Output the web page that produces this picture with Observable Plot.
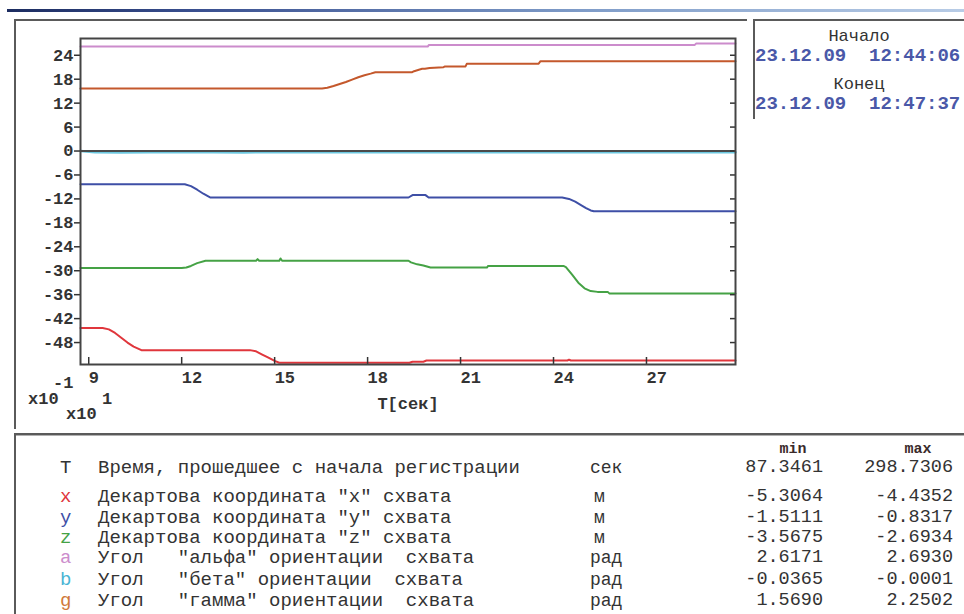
<!DOCTYPE html>
<html>
<head>
<meta charset="utf-8">
<script src="https://cdn.jsdelivr.net/npm/d3@7"></script>
<script src="https://cdn.jsdelivr.net/npm/@observablehq/plot@0.6"></script>
<style>
  html, body { margin: 0; padding: 0; background: #fff; }
  #wrap { position: relative; width: 964px; height: 614px; overflow: hidden; background: #fff;
          font-family: "Liberation Mono", "Courier New", monospace; }
  .abs { position: absolute; white-space: pre; line-height: 1; }
  .line { position: absolute; }
</style>
</head>
<body>
<div id="wrap"></div>
<script>
// ---------- data ----------
const seriesKeys   = ["b", "x", "y", "z", "a", "g"];
const seriesColors = ["#6cc8e0", "#e0363c", "#3e4fa6", "#45a245", "#cc8ccc", "#c4582c"];

// T in seconds, values in physical units (axis labels are x10)
const xT = [87.35, 94.5, 96.5, 98.5, 100.5, 102.5, 104.5, 107, 142, 144, 146, 148, 150, 151.5, 193.5, 194.5, 198, 199, 244.5, 245, 245.6, 298.73];
const xV = [-4.4352, -4.4352, -4.47, -4.56, -4.68, -4.80, -4.90, -4.99, -4.99, -5.02, -5.10, -5.18, -5.26, -5.3064, -5.3064, -5.28, -5.28, -5.25, -5.25, -5.23, -5.25, -5.25];

const yT = [87.35, 121, 123, 125, 127, 129.3, 193.2, 194.5, 198.7, 199.7, 242.8, 245, 247, 249, 250.5, 252, 253, 298.73];
const yV = [-0.8317, -0.8317, -0.88, -0.97, -1.07, -1.165, -1.165, -1.105, -1.105, -1.165, -1.165, -1.20, -1.27, -1.36, -1.43, -1.49, -1.5111, -1.5111];

const zT = [87.35, 120, 121.5, 123, 125, 127.7, 144, 144.5, 145, 151.5, 151.9, 152.4, 193.2, 194, 196, 198, 200.3, 218.5, 218.9, 243.2, 244, 246, 248, 250, 252, 254.2, 257.5, 258, 298.73];
const zV = [-2.93, -2.93, -2.92, -2.88, -2.81, -2.75, -2.75, -2.71, -2.75, -2.75, -2.6934, -2.75, -2.75, -2.79, -2.84, -2.87, -2.92, -2.92, -2.88, -2.88, -2.91, -3.10, -3.30, -3.44, -3.51, -3.53, -3.53, -3.5675, -3.5675];

const aT = [87.35, 199.4, 199.8, 285.6, 286, 298.73];
const aV = [2.6171, 2.6171, 2.66, 2.66, 2.6930, 2.6930];

const bT = [87.35, 92, 100, 110, 120, 130, 140, 150, 160, 200, 250, 298.73];
const bV = [-0.0001, -0.030, -0.0365, -0.030, -0.033, -0.028, -0.034, -0.030, -0.030, -0.030, -0.030, -0.030];

const gT = [87.35, 165.3, 167, 169, 171, 173, 175, 177, 179, 181, 182.5, 194.4, 195, 197.6, 198.5, 200, 204.5, 205, 211.6, 212, 235.2, 235.8, 298.73];
const gV = [1.569, 1.569, 1.585, 1.63, 1.68, 1.73, 1.79, 1.85, 1.90, 1.94, 1.975, 1.975, 2.00, 2.06, 2.06, 2.08, 2.10, 2.12, 2.12, 2.185, 2.19, 2.2502, 2.2502];

const xTickLabels = [9, 12, 15, 18, 21, 24, 27];           // x10^1 sec
const yTickLabels = [-48, -42, -36, -30, -24, -18, -12, -6, 0, 6, 12, 18, 24]; // x10^-1

const tDomain = [87.3461, 298.7306];
const vDomain = [-5.35, 2.82];

// legend / stats table
const tableLetters = ["T", "x", "y", "z", "a", "b", "g"];
const tableLetterColors = ["#333333", "#e0363c", "#3e4fa6", "#45a245", "#cc8ccc", "#4ab4d4", "#d07a3a"];
const tableNames = [
  "Время, прошедшее с начала регистрации",
  "Декартова координата \"x\" схвата",
  "Декартова координата \"y\" схвата",
  "Декартова координата \"z\" схвата",
  "Угол   \"альфа\" ориентации  схвата",
  "Угол   \"бета\" ориентации  схвата",
  "Угол   \"гамма\" ориентации  схвата"
];
const tableUnits = ["сек", "м", "м", "м", "рад", "рад", "рад"];
const tableMin = ["87.3461", "-5.3064", "-1.5111", "-3.5675", "2.6171", "-0.0365", "1.5690"];
const tableMax = ["298.7306", "-4.4352", "-0.8317", "-2.6934", "2.6930", "-0.0001", "2.2502"];
const tableRowY = [468, 497, 518, 538, 558, 580, 601];

const startLabel = "Начало", startDate = "23.12.09  12:44:06";
const endLabel = "Конец", endDate = "23.12.09  12:47:37";

// ---------- build rows ----------
const seriesT = {x: xT, y: yT, z: zT, a: aT, b: bT, g: gT};
const seriesV = {x: xV, y: yV, z: zV, a: aV, b: bV, g: gV};
const rows = [];
for (const k of seriesKeys) seriesT[k].forEach((t, i) => rows.push({series: k, T: t, v: seriesV[k][i]}));

const xTicks = xTickLabels.map(d => d * 10);
const yTicks = yTickLabels.map(d => d / 10);

const wrap = document.getElementById("wrap");

// ---------- chart ----------
const chart = Plot.plot({
  width: 760, height: 430,
  marginLeft: 80, marginRight: 25, marginTop: 38, marginBottom: 66,
  style: {background: "none", fontFamily: "'Liberation Mono', 'Courier New', monospace", fontSize: "17px", fontWeight: "bold", color: "#333"},
  x: {domain: tDomain},
  y: {domain: vDomain},
  color: {domain: seriesKeys, range: seriesColors},
  marks: [
    Plot.line(rows.filter(d => d.series === "b"), {x: "T", y: "v", stroke: "series", strokeWidth: 2.5}),
    Plot.ruleY([0], {stroke: "#4a4a4a", strokeWidth: 1.8}),
    Plot.line(rows.filter(d => d.series !== "b"), {x: "T", y: "v", z: "series", stroke: "series", strokeWidth: 2}),
    Plot.axisY({anchor: "left", ticks: yTicks, tickSize: 6, tickPadding: 1, tickFormat: d => String(Math.round(d * 10)), label: null, stroke: "#333", strokeWidth: 1.5, fill: "#333"}),
    Plot.axisY({anchor: "right", ticks: yTicks, tickSize: 6, dx: -6, tickFormat: () => "", label: null, stroke: "#333", strokeWidth: 1.5}),
    Plot.axisX({anchor: "bottom", ticks: xTicks, tickSize: 7, dy: -7, tickFormat: () => "", label: null, stroke: "#333", strokeWidth: 1.5}),
    Plot.axisX({anchor: "bottom", ticks: xTicks, tickSize: 0, tickPadding: 6, textAnchor: "start", tickFormat: d => String(Math.round(d / 10)), label: null, fill: "#333"}),
    Plot.frame({stroke: "#444", strokeWidth: 2})
  ]
});
chart.style.position = "absolute";
chart.style.left = "0px";
chart.style.top = "0px";

// ---------- decorations ----------
function rect(x, y, w, h, bg) {
  const d = document.createElement("div");
  d.className = "line";
  Object.assign(d.style, {left: x + "px", top: y + "px", width: w + "px", height: h + "px", background: bg});
  wrap.appendChild(d);
}
function text(str, x, yc, opts = {}) {
  const d = document.createElement("div");
  d.className = "abs";
  d.textContent = str;
  const fs = opts.size || 19;
  Object.assign(d.style, {
    fontSize: fs + "px",
    fontWeight: opts.weight || "normal",
    color: opts.color || "#333",
    top: (yc - fs / 2) + "px",
    height: fs + "px"
  });
  if (opts.align === "right") { d.style.right = (964 - x) + "px"; d.style.textAlign = "right"; }
  else if (opts.align === "center") { d.style.left = (x - (opts.half || 60)) + "px"; d.style.width = (2 * (opts.half || 60)) + "px"; d.style.textAlign = "center"; }
  else d.style.left = x + "px";
  wrap.appendChild(d);
  return d;
}

// title bar gradient
rect(7, 9, 957, 3, "linear-gradient(to right, #1c2c60 0%, #3a5090 20%, #7f9cc8 60%, #b8cce6 100%)");
// left panel borders
rect(14, 19, 733, 2, "#5a5a5a");
rect(14, 19, 2, 410, "#5a5a5a");
// right panel borders
rect(753, 19, 211, 2, "#5a5a5a");
rect(753, 19, 2, 100, "#5a5a5a");
// bottom panel borders
rect(14, 433, 950, 2, "#5a5a5a");
rect(14, 435, 950, 1, "#b0b0b0");
rect(14, 433, 2, 181, "#5a5a5a");

wrap.appendChild(chart);

// axis multipliers and x label
text("-1", 53, 383, {size: 17, weight: "bold"});
text("x10", 28, 399, {size: 17, weight: "bold"});
text("1", 102, 399, {size: 17, weight: "bold"});
text("x10", 66, 414, {size: 17, weight: "bold"});
text("T[сек]", 408, 404, {size: 17, weight: "bold", align: "center"});

// right panel
text(startLabel, 859, 36, {size: 17, color: "#333", align: "center"});
text(startDate, 755, 56, {size: 19, weight: "bold", color: "#4a58a8"});
text(endLabel, 859, 84, {size: 17, color: "#333", align: "center"});
text(endDate, 755, 104, {size: 19, weight: "bold", color: "#4a58a8"});

// table
text("min", 793, 449, {size: 15, weight: "bold", color: "#3a2a2a", align: "center", half: 30});
text("max", 918, 449, {size: 15, weight: "bold", color: "#3a2a2a", align: "center", half: 30});
tableLetters.forEach((L, i) => {
  const y = tableRowY[i];
  text(L, 60, y, {size: 19, color: tableLetterColors[i]});
  text(tableNames[i], 98, y, {size: 19});
  text(tableUnits[i], tableUnits[i] === "м" ? 594 : 590, y, {size: 18});
  text(tableMin[i], 823, y, {size: 18.5, align: "right"});
  text(tableMax[i], 953, y, {size: 18.5, align: "right"});
});
</script>
</body>
</html>
